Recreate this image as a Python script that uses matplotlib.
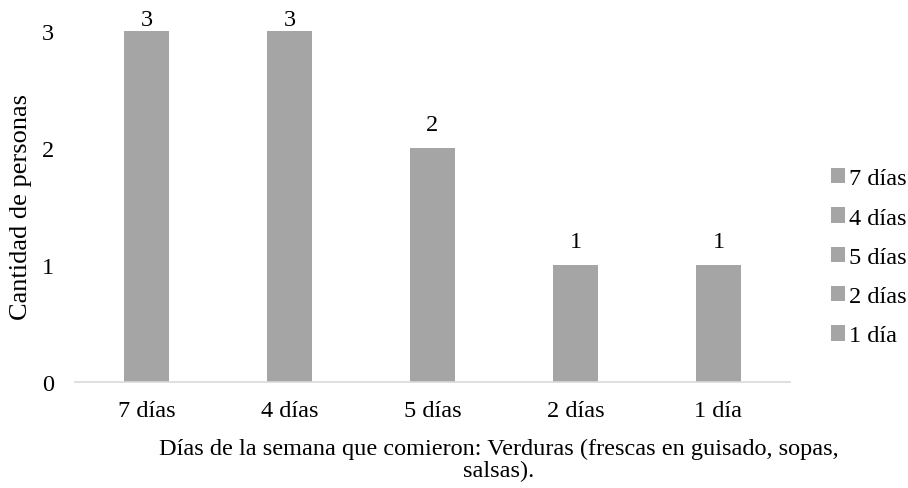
import matplotlib
matplotlib.use('Agg')
import matplotlib.pyplot as plt
from matplotlib.patches import Patch

categories = ["7 días", "4 días", "5 días", "2 días", "1 día"]
values = [3, 3, 2, 1, 1]
yticks = [0, 1, 2, 3]

bar_color = "#A5A5A5"
plt.rcParams['font.family'] = ['Liberation Serif', 'DejaVu Serif']
fs = 17.5

fig = plt.figure(figsize=(9.08, 4.89), dpi=100)
ax = fig.add_axes([0.0826, 0.2168, 0.7874, 0.7178])

x = list(range(len(categories)))
bars = ax.bar(x, values, width=0.315, color=bar_color)
top = max(values)
for rect, v in zip(bars, values):
    # labels on the tallest bars get squeezed against the top of the plot
    off = 1 if v == top else 9
    ax.annotate(str(v), (rect.get_x() + rect.get_width() / 2, v),
                xytext=(0, off), textcoords="offset points",
                ha="center", va="bottom", fontsize=fs)

ax.set_xlim(-0.5, len(categories) - 0.5)
ax.set_ylim(0, 3)
ax.set_xticks(x)
ax.set_xticklabels(categories, fontsize=fs)
ax.set_yticks(yticks)
ax.set_yticklabels([str(t) for t in yticks], fontsize=fs)
ax.tick_params(axis="both", length=0)
ax.tick_params(axis="x", pad=13)
ax.tick_params(axis="y", pad=15)

for side in ["top", "right", "left"]:
    ax.spines[side].set_visible(False)
ax.spines["bottom"].set_color("#D9D9D9")
ax.spines["bottom"].set_linewidth(1.2)

ax.set_ylabel("Cantidad de personas", fontsize=19, labelpad=7)
ax.set_xlabel("Días de la semana que comieron: Verduras (frescas en guisado, sopas,\nsalsas).",
              fontsize=fs, linespacing=1.05, va="top")
ax.xaxis.set_label_coords(0.593, -0.16)

handles = [Patch(facecolor=bar_color, label=c) for c in categories]
fig.legend(handles=handles, loc="center left", bbox_to_anchor=(0.915, 0.472),
           frameon=False, fontsize=fs, handlelength=0.6, handleheight=0.6,
           handletextpad=0.15, labelspacing=0.74, borderaxespad=0, borderpad=0)

fig.savefig("out.png", dpi=100)
